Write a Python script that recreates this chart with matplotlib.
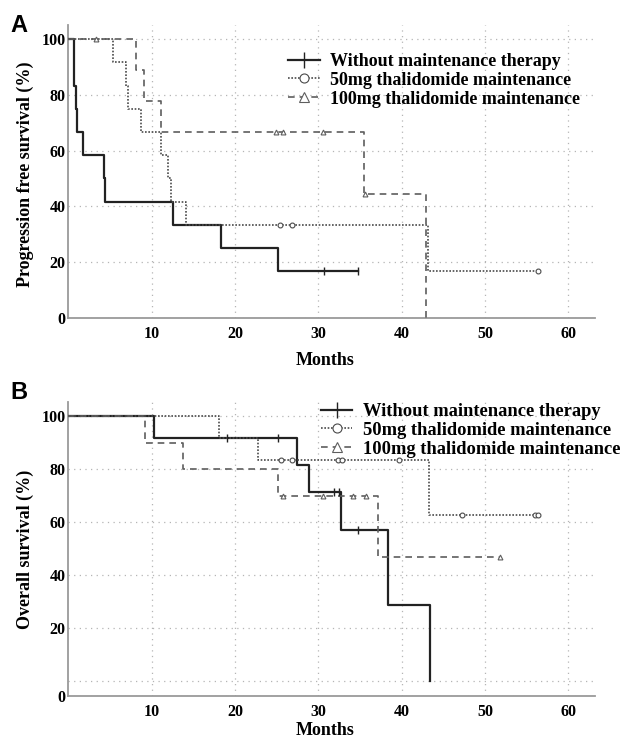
import numpy as np
import matplotlib.pyplot as plt
from matplotlib.lines import Line2D

plt.rcParams['font.family'] = ['Liberation Serif', 'DejaVu Serif']
plt.rcParams['font.weight'] = 'bold'

x_ticks = [10, 20, 30, 40, 50, 60]
y_ticks = [0, 20, 40, 60, 80, 100]
labels = ['Without maintenance therapy',
          '50mg thalidomide maintenance',
          '100mg thalidomide maintenance']

# A: progression free survival (step times, survival %, censor times)
pfs_none_t = [0, 0.66, 0.86, 0.98, 1.78, 4.3, 4.4, 12.6, 18.3, 25.1, 34.8]
pfs_none_s = [100, 83.3, 75, 66.7, 58.3, 50, 41.7, 33.3, 25, 16.7, 16.7]
pfs_none_c = [30.7, 34.8]
pfs_50_t = [0, 5.4, 6.9, 7.1, 8.7, 11.1, 12.0, 12.3, 14.1, 43.2, 56.3]
pfs_50_s = [100, 91.7, 83.3, 75, 66.7, 58.3, 50, 41.7, 33.3, 16.7, 16.7]
pfs_50_c = [25.4, 26.8, 56.3]
pfs_100_t = [0, 8.1, 9.1, 11.1, 35.5, 42.9]
pfs_100_s = [100, 88.9, 77.8, 66.7, 44.4, 0]
pfs_100_c = [3.3, 24.9, 25.8, 30.5, 35.6]

# B: overall survival
os_none_t = [0, 10.3, 27.4, 28.9, 32.7, 38.3, 43.4]
os_none_s = [100, 91.7, 81.5, 71.3, 57.0, 28.5, 0]
os_none_c = [19.0, 25.2, 31.9, 32.5, 34.8]
os_50_t = [0, 18.1, 22.7, 43.3, 56.5]
os_50_s = [100, 91.7, 83.3, 62.5, 62.5]
os_50_c = [25.5, 26.8, 32.4, 32.8, 39.7, 47.2, 56.0, 56.4]
os_100_t = [0, 9.2, 13.7, 25.1, 37.1, 51.8]
os_100_s = [100, 90, 80, 70, 46.7, 46.7]
os_100_c = [25.8, 30.6, 34.2, 35.7, 51.8]

styles = [dict(color='#222222', lw=1.6, ls='-'),
          dict(color='#4a4a4a', lw=1.2, ls=(0, (1, 1))),
          dict(color='#5e5e5e', lw=1.2, ls=(0, (4, 3)))]
marks = [dict(marker='|', ms=6, mew=1.0),
         dict(marker='o', ms=3.5, mew=0.8, mfc='white'),
         dict(marker='^', ms=3.5, mew=0.8, mfc='white')]


def level(t, s, c):
    """survival value of the step curve at censor times"""
    i = np.searchsorted(t, c, side='right') - 1
    return np.asarray(s)[i]


def km_panel(ax, curves, ylim):
    for (t, s, c), st, mk in zip(curves, styles, marks):
        ax.step(t, s, where='post', zorder=3, **st)
        ax.plot(c, level(t, s, c), ls='none', color=st['color'], zorder=4, **mk)
    ax.set_xlim(0, 63.2)
    ax.set_ylim(*ylim)
    ax.set_xticks(x_ticks)
    ax.grid(True, color='#b5b5b5', lw=0.9, ls=(0, (1, 3.5)))
    ax.set_axisbelow(True)
    for sp in ['top', 'right']:
        ax.spines[sp].set_visible(False)
    for sp in ['left', 'bottom']:
        ax.spines[sp].set_color('#9a9a9a')
        ax.spines[sp].set_linewidth(1.3)
    ax.tick_params(length=0, labelsize=11.5)
    ax.tick_params(axis='y', pad=2)
    ax.tick_params(axis='x', pad=6)
    ax.set_xlabel('Months', fontsize=13, fontweight='bold')


def legend(ax, anchor, size, hlen):
    handles = [Line2D([], [], **st, **mk) for st, mk in zip(styles, marks)]
    handles[0].set_markersize(11)
    handles[1].set_markersize(6.5)
    handles[2].set_markersize(6.5)
    fig = ax.figure
    ax.legend(handles, labels, loc='upper left', bbox_to_anchor=anchor,
              bbox_transform=fig.transFigure, frameon=False, borderpad=0,
              borderaxespad=0, labelspacing=0.1, handlelength=hlen,
              handletextpad=0.6, prop=dict(family='Liberation Serif', weight='bold', size=size))


fig = plt.figure(figsize=(6.21, 7.39), dpi=100)
ax1 = fig.add_axes([0.1103, 0.5697, 0.8478, 0.3965])
ax2 = fig.add_axes([0.1103, 0.0582, 0.8478, 0.3978])

km_panel(ax1, [(pfs_none_t, pfs_none_s, pfs_none_c),
               (pfs_50_t, pfs_50_s, pfs_50_c),
               (pfs_100_t, pfs_100_s, pfs_100_c)], (0, 105))
ax1.set_yticks(y_ticks)
ax1.set_ylabel('Progression free survival (%)', fontsize=13, fontweight='bold')
ax1.yaxis.set_label_coords(-0.066, 0.49)
ax1.xaxis.set_label_coords(0.488, -0.117)
legend(ax1, (288 / 621, 1 - 53 / 739), 13, 1.75)

km_panel(ax2, [(os_none_t, os_none_s, os_none_c),
               (os_50_t, os_50_s, os_50_c),
               (os_100_t, os_100_s, os_100_c)], (-5.66, 105.3))
# the 0 label sits on the axis line, the 0 grid line a bit above
ax2.set_yticks([-5.66] + y_ticks[1:])
ax2.set_yticklabels([str(v) for v in y_ticks])
ax2.axhline(0, color='#b5b5b5', lw=0.9, ls=(0, (1, 3.5)), zorder=0)
ax2.set_ylabel('Overall survival (%)', fontsize=13, fontweight='bold')
ax2.yaxis.set_label_coords(-0.066, 0.5)
ax2.xaxis.set_label_coords(0.488, -0.088)
legend(ax2, (321 / 621, 1 - 403 / 739), 13.3, 1.7)

fig.text(10 / 621, 1 - 32 / 739, 'A', family='Liberation Sans', weight='bold', fontsize=17)
fig.text(10 / 621, 1 - 399 / 739, 'B', family='Liberation Sans', weight='bold', fontsize=17)

fig.savefig('out.png', dpi=100)
